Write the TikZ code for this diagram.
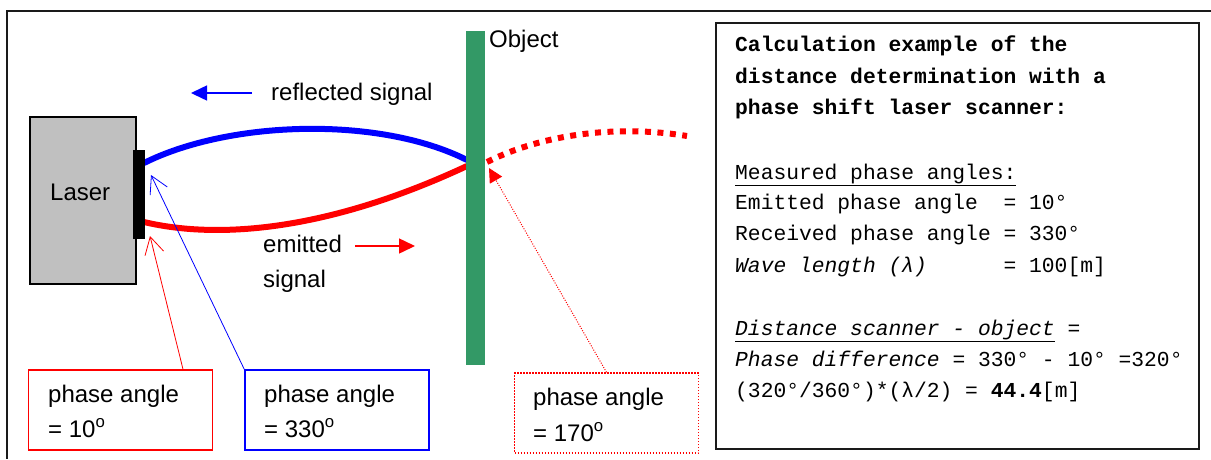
\documentclass[tikz,border=0pt]{standalone}
\usepackage{fontspec}
\setmainfont{Liberation Sans}
\setmonofont{Liberation Mono}
\usetikzlibrary{arrows.meta,calc}
\definecolor{objgreen}{HTML}{339966}
\definecolor{lasergray}{HTML}{C0C0C0}
\definecolor{framegray}{HTML}{1A1A1A}
\begin{document}
\begin{tikzpicture}[x=1pt,y=-1pt,
  lbl/.style={anchor=base west, inner sep=0pt, font=\fontsize{24}{28}\selectfont},
  mono/.style={anchor=base west, inner sep=0pt, font=\fontsize{21.3}{31}\selectfont\ttfamily},
  callout/.style={line width=1.5pt, minimum width=184pt, minimum height=80pt, inner sep=0pt},
  wave/.style={line width=6pt},
  thinarrow/.style={line width=0.8pt, -{Straight Barb[length=17pt,width=19pt]}},
  sigarrow/.style={line width=1.5pt, -{Triangle[length=16pt,width=15pt]}}]
\useasboundingbox (0,0) rectangle (1211,459);
% outer frame
\draw[line width=2pt, framegray] (1211,11) -- (7,11) -- (7,459);
% laser
\node[draw, line width=1.5pt, fill=lasergray, minimum width=106pt, minimum height=167pt, inner sep=0pt] (laser) at (83,200.5) {};
\node[lbl] (lasertxt) at (50,200) {Laser};
% wave coordinates
\coordinate (bl0) at (144,163);
\coordinate (bl1) at (467,160);
\coordinate (rd0) at (144,222);
\coordinate (rd1) at (467,166);
\coordinate (dt0) at (487,162);
\coordinate (dt1) at (687,136);
% waves
\draw[wave, blue] (bl0) .. controls (230,120) and (380,116) .. (bl1);
\draw[wave, red] (rd0) .. controls (220,240) and (330,230) .. (rd1);
\draw[wave, red, dash pattern=on 6pt off 6.5pt] (dt0) .. controls (545,133) and (620,125) .. (dt1);
% emitter strip and object
\node[fill=black, minimum width=12pt, minimum height=89pt, inner sep=0pt] (emit) at (139,194.5) {};
\node[fill=objgreen, minimum width=19pt, minimum height=334pt, inner sep=0pt] (obj) at (475.5,198) {};
\node[lbl] (objtxt) at (489,47) {Object};
% signal arrows
\coordinate (ra0) at (252,93);
\coordinate (ra1) at (191,93);
\draw[sigarrow, blue] (ra0) -- (ra1);
\node[lbl] (refl) at (271,100) {reflected signal};
\coordinate (ea0) at (355,246);
\coordinate (ea1) at (415,246);
\draw[sigarrow, red] (ea0) -- (ea1);
\node[lbl] (emt1) at (263,252) {emitted};
\node[lbl] (emt2) at (263,287) {signal};
% callout boxes
\node[callout, draw=red] (b1) at (120.5,410) {};
\node[callout, draw=blue] (b2) at (337,410) {};
\node[callout, draw=red, dash pattern=on 1.5pt off 1.5pt] (b3) at (606.5,413) {};
\node[lbl] (b1a) at (48,402) {phase angle};
\node[lbl] (b1b) at (48,437) {= 10\textsuperscript{o}};
\node[lbl] (b2a) at (264,402) {phase angle};
\node[lbl] (b2b) at (264,437) {= 330\textsuperscript{o}};
\node[lbl] (b3a) at (533,405) {phase angle};
\node[lbl] (b3b) at (533,441) {= 170\textsuperscript{o}};
% callout connectors
\coordinate (t10) at (150,236);
\coordinate (t330) at (151,175);
\coordinate (t170) at (489,168);
\draw[thinarrow, red] ($(b1.north west)!0.837!(b1.north east)$) -- (t10);
\draw[thinarrow, blue] (b2.north west) -- (t330);
\draw[red, line width=1pt, dash pattern=on 1pt off 1.5pt, -{Triangle[length=14pt,width=14pt]}] (b3.north) -- (t170);
% info box
\node[draw, line width=2pt, framegray, minimum width=483pt, minimum height=426pt, inner sep=0pt] (info) at (957.5,236) {};
\node[mono] (l1) at (735,51) {\textbf{Calculation example of the}};
\node[mono] (l2) at (735,83) {\textbf{distance determination with a}};
\node[mono] (l3) at (735,114) {\textbf{phase shift laser scanner:}};
\node[mono] (l4) at (735,179) {\underline{Measured phase angles:}};
\node[mono] (l5) at (735,209) {Emitted phase angle~~= 10°};
\node[mono] (l6) at (735,240) {Received phase angle = 330°};
\node[mono] (l7) at (735,272) {\textit{Wave length (λ)}~~~~~~= 100[m]};
\node[mono] (l8) at (735,335) {\underline{\textit{Distance scanner - object}} =};
\node[mono] (l9) at (735,366) {\textit{Phase difference} = 330° - 10° =320°};
\node[mono] (l10) at (735,397) {(320°/360°)*(λ/2) = \textbf{44.4}[m]};
\end{tikzpicture}
\end{document}
